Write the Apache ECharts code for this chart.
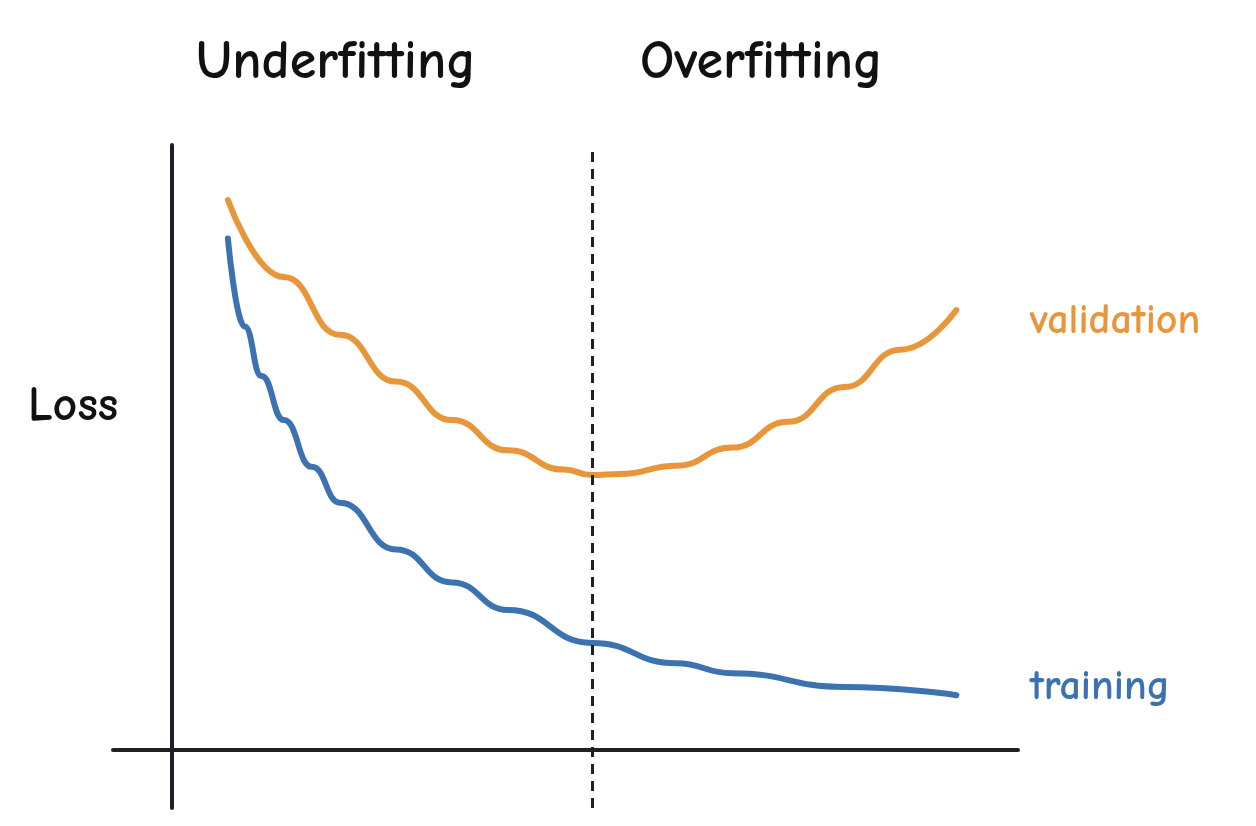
<!DOCTYPE html>
<html>
<head>
    <meta charset="utf-8">
    <script src="https://cdn.jsdelivr.net/npm/echarts@6/dist/echarts.min.js"></script>
</head>
<body style="margin:0;background:#fff;">
    <div id="chart" style="width:1256px;height:826px;"></div>
    <script>
        var hand = '"Comic Sans MS", "Comic Neue", Lato, sans-serif';
        var validationX = [1, 2, 3, 4, 5, 6, 7, 7.5, 8, 9, 10, 11, 12, 13, 14];
        var validationY = [10.0, 8.6, 7.55, 6.7, 6.0, 5.45, 5.1, 5.0, 5.02, 5.17, 5.5, 5.97, 6.6, 7.28, 8.0];
        var trainingX = [1, 1.3, 1.6, 2, 2.5, 3, 4, 5, 6, 7.5, 9, 10, 12, 14];
        var trainingY = [9.3, 7.7, 6.8, 6.0, 5.15, 4.5, 3.65, 3.05, 2.55, 1.95, 1.58, 1.4, 1.15, 1.0];
        var splitX = 7.5;

        function pairs(xs, ys) {
            var out = [];
            for (var i = 0; i < xs.length; i++) out.push([xs[i], ys[i]]);
            return out;
        }

        var chart = echarts.init(document.getElementById('chart'));
        chart.setOption({
            animation: false,
            grid: { left: 113, right: 238, top: 145, bottom: 18 },
            xAxis: {
                type: 'value', min: -1.05, max: 15.1,
                axisLine: { onZero: true, lineStyle: { color: '#1f1f27', width: 4 } },
                axisTick: { show: false }, axisLabel: { show: false }, splitLine: { show: false }
            },
            yAxis: {
                type: 'value', min: -1.05, max: 11,
                axisLine: { show: true, onZero: true, lineStyle: { color: '#1f1f27', width: 4 } },
                axisTick: { show: false }, axisLabel: { show: false }, splitLine: { show: false }
            },
            series: [{
                type: 'line', smooth: true, smoothMonotone: 'x', showSymbol: false,
                data: pairs(validationX, validationY),
                lineStyle: { color: '#E8963A', width: 6, cap: 'round' },
                markLine: {
                    symbol: 'none', silent: true, label: { show: false },
                    lineStyle: { color: '#1f1f27', type: [10, 7], width: 3 },
                    data: [{ xAxis: splitX }]
                }
            }, {
                type: 'line', smooth: true, smoothMonotone: 'x', showSymbol: false,
                data: pairs(trainingX, trainingY),
                lineStyle: { color: '#3D72B0', width: 6, cap: 'round' }
            }],
            graphic: [
                { type: 'text', left: 196, top: 36, style: { text: 'Underfitting', font: 'bold 54px ' + hand, fill: '#111' } },
                { type: 'text', left: 640, top: 36, style: { text: 'Overfitting', font: 'bold 54px ' + hand, fill: '#111' } },
                { type: 'text', left: 28, top: 382, style: { text: 'Loss', font: 'bold 48px ' + hand, fill: '#111' } },
                { type: 'text', left: 1030, top: 300, style: { text: 'validation', font: 'bold 42px ' + hand, fill: '#E8963A' } },
                { type: 'text', left: 1030, top: 666, style: { text: 'training', font: 'bold 42px ' + hand, fill: '#3D72B0' } }
            ]
        });
    </script>
</body>
</html>
